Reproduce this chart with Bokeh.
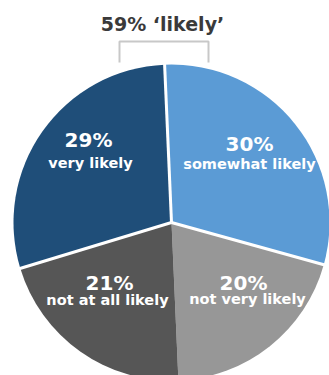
import numpy as np
from bokeh.plotting import figure
from bokeh.models import ColumnDataSource
from bokeh.core.properties import value
from bokeh.embed import file_html
from bokeh.resources import INLINE

# data
categories = ["somewhat likely", "not very likely", "not at all likely", "very likely"]
shares = [30, 20, 21, 29]
pct_labels = ["30%", "20%", "21%", "29%"]
colors = ["#5B9BD5", "#979797", "#565656", "#1F4E79"]
title_text = "59% \u2018likely\u2019"

# geometry (page pixels, y negated)
CX, CY, R = 171, -222, 158
START = np.deg2rad(92.5)

frac = np.array(shares) / sum(shares)
cum = np.concatenate([[0], np.cumsum(frac)])
starts = START - cum[1:] * 2 * np.pi   # clockwise
ends = START - cum[:-1] * 2 * np.pi

p = figure(width=329, height=375, x_range=(0, 329), y_range=(-375, 0),
           output_backend="svg", toolbar_location=None, min_border=0)
p.axis.visible = False
p.grid.visible = False
p.outline_line_color = None
p.background_fill_color = "white"

src = ColumnDataSource(dict(start=starts, end=ends, color=colors))
p.wedge(x=CX, y=CY, radius=R, start_angle="start", end_angle="end",
        fill_color="color", line_color=None, source=src)

# white separators (not between the two grey slices)
sep_angles = [ends[0], starts[0], starts[2]]
p.segment(x0=[CX] * 3, y0=[CY] * 3,
          x1=[CX + (R + 3) * np.cos(a) for a in sep_angles],
          y1=[CY + (R + 3) * np.sin(a) for a in sep_angles],
          line_color="white", line_width=3)

# labels
pct_pos = {"30%": (249, -143), "20%": (243, -282), "21%": (109, -282), "29%": (88, -139)}
cat_pos = {"somewhat likely": (249, -163), "not very likely": (247, -298),
           "not at all likely": (107, -299), "very likely": (90, -162)}
p.text(x=[pct_pos[k][0] for k in pct_labels], y=[pct_pos[k][1] for k in pct_labels],
       text=pct_labels, text_color="white", text_font=value("DejaVu Sans"),
       text_font_style="bold", text_font_size="20px",
       text_align="center", text_baseline="middle")
p.text(x=[cat_pos[k][0] for k in categories], y=[cat_pos[k][1] for k in categories],
       text=categories, text_color="white", text_font=value("DejaVu Sans"),
       text_font_style="bold", text_font_size="14.5px",
       text_align="center", text_baseline="middle")

# title and bracket
p.text(x=[162], y=[-23], text=[title_text], text_color="#3a3a3a",
       text_font=value("DejaVu Sans"), text_font_style="bold",
       text_font_size="19px", text_align="center", text_baseline="middle")
p.line(x=[119, 119, 208, 208], y=[-62, -41, -41, -62],
       line_color="#c8c8c8", line_width=2)

open("out.html", "w").write(file_html(p, INLINE))
